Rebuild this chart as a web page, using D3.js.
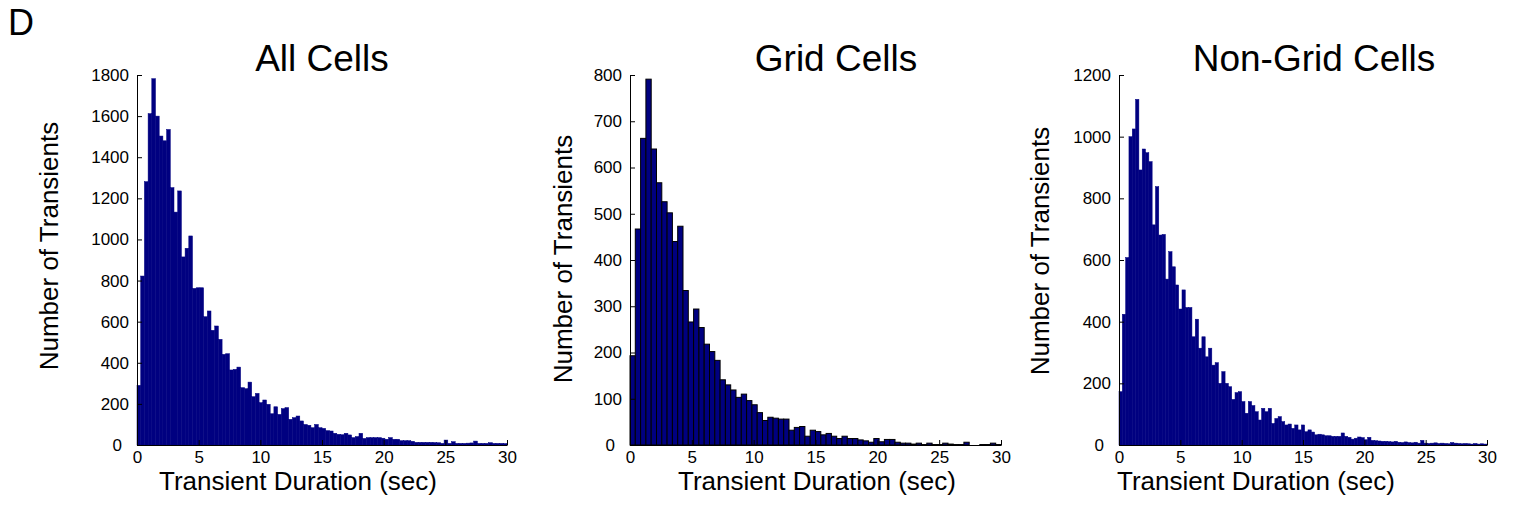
<!DOCTYPE html>
<html>
<head>
<meta charset="utf-8">
<style>
    body {
        margin: 0;
        background: #fff;
    }

    svg {
        display: block;
        font-family: "Liberation Sans", Arial, sans-serif;
    }

    .axis .domain,
    .axis .tick line {
        stroke: #000;
        stroke-width: 1;
    }

    .axis .tick text {
        font-size: 17px;
        fill: #000;
    }
</style>
</head>

<body>
<svg width="1521" height="508"></svg>

<script src="https://d3js.org/d3.v7.min.js"></script>
<script>

    // histogram counts (bins span 0 - 30 sec)
    const allCells = [
        290, 822, 1281, 1612, 1782, 1600, 1503, 1480, 1535, 1252,
        1133, 1236, 915, 957, 1017, 762, 765, 765, 624, 652,
        558, 579, 514, 441, 444, 365, 368, 379, 279, 274,
        306, 235, 251, 206, 219, 198, 152, 186, 149, 177,
        182, 125, 133, 141, 117, 100, 96, 84, 100, 84,
        81, 70, 68, 57, 52, 50, 57, 49, 36, 41,
        57, 32, 36, 36, 36, 36, 33, 28, 36, 28,
        28, 21, 21, 21, 18, 13, 13, 13, 13, 13,
        12, 11, 8, 24, 8, 16, 8, 8, 8, 9,
        10, 19, 8, 8, 8, 11, 8, 8, 8, 7
    ];

    const gridCells = [
        193, 467, 663, 791, 640, 567, 526, 502, 440, 473,
        334, 266, 294, 254, 218, 202, 183, 141, 130, 119,
        103, 110, 96, 87, 70, 53, 60, 58, 56, 56,
        32, 38, 40, 19, 32, 29, 22, 25, 19, 14,
        19, 14, 14, 11, 9, 6, 14, 7, 12, 12,
        6, 4, 4, 2, 4, 1, 4, 1, 1, 4,
        2, 1, 1, 6, 0, 0, 1, 1, 4, 1
    ];

    const nonGridCells = [
        173, 424, 608, 1000, 1025, 1121, 892, 960, 948, 919,
        714, 838, 681, 683, 538, 627, 578, 519, 441, 503,
        446, 446, 351, 408, 314, 351, 286, 314, 259, 267,
        200, 238, 200, 189, 148, 170, 173, 141, 103, 141,
        128, 108, 81, 119, 108, 119, 70, 86, 92, 76,
        65, 68, 54, 65, 49, 65, 43, 49, 42, 33,
        35, 33, 30, 30, 28, 28, 28, 39, 28, 25,
        19, 22, 26, 24, 17, 25, 15, 14, 13, 12,
        12, 11, 10, 12, 9, 8, 10, 8, 7, 9,
        6, 15, 6, 5, 6, 7, 5, 6, 5, 4,
        8, 6, 5, 4, 5, 4, 3, 5, 3, 4, 3
    ];

    const xMax = 30;
    const xTicks = [0, 5, 10, 15, 20, 25, 30];
    const allYTicks = [0, 200, 400, 600, 800, 1000, 1200, 1400, 1600, 1800];
    const gridYTicks = [0, 100, 200, 300, 400, 500, 600, 700, 800];
    const nonGridYTicks = [0, 200, 400, 600, 800, 1000, 1200];

    const titles = ["All Cells", "Grid Cells", "Non-Grid Cells"];
    const xLabel = "Transient Duration (sec)";
    const yLabel = "Number of Transients";

    // layout of the three axes (pixels)
    const panels = [
        { counts: allCells, ticks: allYTicks, left: 137, right: 507, titleX: 322, xLabelX: 298, yLabelX: 58, yLabelY: 246, outline: false },
        { counts: gridCells, ticks: gridYTicks, left: 630, right: 1001, titleX: 836, xLabelX: 817, yLabelX: 572, yLabelY: 259, outline: true },
        { counts: nonGridCells, ticks: nonGridYTicks, left: 1119, right: 1487, titleX: 1314, xLabelX: 1256, yLabelX: 1049, yLabelY: 251, outline: false }
    ];

    const plotTop = 75;
    const plotBottom = 445;
    const navy = "#000080";

    let svg = d3.select("svg");

    // panel letter
    svg.append("text")
        .attr("x", 8)
        .attr("y", 35)
        .style("font-size", "36px")
        .text("D");

    panels.forEach(function (p, k) {

        let binWidth = xMax / p.counts.length;

        let x = d3.scaleLinear()
            .domain([0, xMax])
            .range([p.left, p.right]);

        let y = d3.scaleLinear()
            .domain([0, d3.max(p.ticks)])
            .range([plotBottom, plotTop]);

        let g = svg.append("g");

        g.append("g")
            .selectAll("rect")
            .data(p.counts)
            .join("rect")
            .attr("x", (d, i) => x(i * binWidth))
            .attr("width", (d, i) => x((i + 1) * binWidth) - x(i * binWidth))
            .attr("y", d => y(d))
            .attr("height", d => y(0) - y(d))
            .style("fill", navy)
            .style("stroke", p.outline ? "#000" : navy)
            .style("stroke-width", p.outline ? 1 : 0.5);

        // MATLAB style: box off, ticks pointing inwards
        g.append("g")
            .attr("class", "axis")
            .attr("transform", `translate(0,${plotBottom})`)
            .call(d3.axisBottom(x)
                .tickValues(xTicks)
                .tickFormat(d3.format("d"))
                .tickSizeInner(-5)
                .tickSizeOuter(0)
                .tickPadding(6));

        let yAxis = g.append("g")
            .attr("class", "axis")
            .attr("transform", `translate(${p.left},0)`)
            .call(d3.axisLeft(y)
                .tickValues(p.ticks)
                .tickFormat(d3.format("d"))
                .tickSizeInner(-5)
                .tickSizeOuter(0)
                .tickPadding(8));

        // the corner zero is nudged away from the x axis zero
        yAxis.selectAll(".tick")
            .filter(d => d === 0)
            .select("text")
            .attr("x", -15);

        g.append("text")
            .attr("x", p.titleX)
            .attr("y", 71)
            .style("text-anchor", "middle")
            .style("font-size", "37px")
            .text(titles[k]);

        g.append("text")
            .attr("x", p.xLabelX)
            .attr("y", 490)
            .style("text-anchor", "middle")
            .style("font-size", "26px")
            .text(xLabel);

        g.append("text")
            .attr("transform", `translate(${p.yLabelX},${p.yLabelY}) rotate(-90)`)
            .style("text-anchor", "middle")
            .style("font-size", "26px")
            .text(yLabel);
    });

</script>
</body>
</html>
